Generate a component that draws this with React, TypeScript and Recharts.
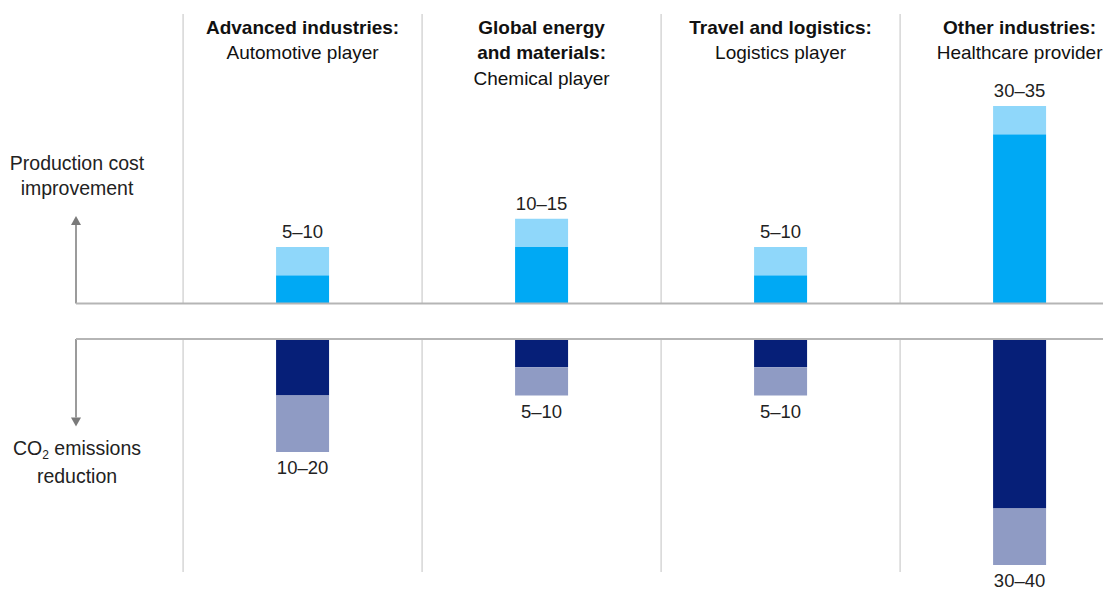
import React from 'react';
import { BarChart, Bar, XAxis, YAxis, ReferenceLine, LabelList } from 'recharts';

// sector columns
const headerBold = [['Advanced industries:'], ['Global energy', 'and materials:'], ['Travel and logistics:'], ['Other industries:']];
const headerSub = ['Automotive player', 'Chemical player', 'Logistics player', 'Healthcare provider'];

// production cost improvement (low end + width of range)
const costLow = [5, 10, 5, 30];
const costRange = [5, 5, 5, 5];
const costLabels = ['5–10', '10–15', '5–10', '30–35'];

// CO2 emissions reduction (low end + width of range)
const co2Low = [10, 5, 5, 30];
const co2Range = [10, 5, 5, 10];
const co2Labels = ['10–20', '5–10', '5–10', '30–40'];

const FONT = '"Liberation Sans", Arial, sans-serif';
const X_DOMAIN: [number, number] = [-0.448, 3.849];
const DIVIDERS = [0, 1, 2, 3];
const ARROW_LEN = 15.5;

const positions = headerSub.map((_, i) => i + 0.5);

const costData = positions.map((pos, i) => ({ pos, low: costLow[i], range: costRange[i], label: costLabels[i] }));
const co2Data = positions.map((pos, i) => ({ pos, low: co2Low[i], range: co2Range[i], label: co2Labels[i] }));

const HeaderTick = (props: any) => {
  const { x, y, payload } = props;
  const i = Math.round(payload.value - 0.5);
  const bold = headerBold[i] || [];
  return (
    <text x={x} y={y} textAnchor="middle" fontFamily={FONT} fontSize={19} fill="#111">
      {bold.map((t, k) => (
        <tspan key={k} x={x} dy={k === 0 ? 19.5 : 25.5} fontWeight={700}>{t}</tspan>
      ))}
      <tspan x={x} dy={25.5}>{headerSub[i]}</tspan>
    </text>
  );
};

const Arrow = (props: any) => {
  const { x1, y1, x2, y2 } = props;
  const dir = y2 < y1 ? -1 : 1;
  const base = y2 - dir * 9;
  return (
    <g>
      <line x1={x1} y1={y1} x2={x2} y2={base} stroke="#7a7a7a" strokeWidth={1.5} />
      <polygon points={`${x2 - 5},${base} ${x2 + 5},${base} ${x2},${y2}`} fill="#7a7a7a" />
    </g>
  );
};

const sideLabel: React.CSSProperties = {
  position: 'absolute',
  left: -3,
  width: 160,
  textAlign: 'center',
  fontFamily: FONT,
  fontSize: 19.5,
  lineHeight: '25px',
  color: '#222',
};

export default function App() {
  return (
    <div style={{ position: 'absolute', left: 0, top: 0, width: 1105, height: 593, background: '#fff', overflow: 'hidden' }}>
      <div style={{ position: 'absolute', left: 0, top: 0 }}>
        <BarChart width={1105} height={320} data={costData} margin={{ top: 13, right: 2, left: 76, bottom: 15.5 }} barSize={53}>
          <XAxis dataKey="pos" type="number" domain={X_DOMAIN} ticks={DIVIDERS} tick={false} tickLine={false}
            height={1} axisLine={{ stroke: '#b5b5b5', strokeWidth: 2 }} allowDataOverflow />
          <XAxis xAxisId="hdr" orientation="top" dataKey="pos" type="number" domain={X_DOMAIN} ticks={positions}
            interval={0} tick={HeaderTick} tickLine={false} axisLine={false} height={1} tickSize={0} tickMargin={0} allowDataOverflow />
          <YAxis hide domain={[0, 51.3]} allowDataOverflow />
          {DIVIDERS.map((d) => (
            <ReferenceLine key={d} x={d} stroke="#c2c2c2" strokeWidth={1} />
          ))}
          <ReferenceLine segment={[{ x: X_DOMAIN[0], y: 0 }, { x: X_DOMAIN[0], y: ARROW_LEN }]} ifOverflow="visible" shape={Arrow} />
          <Bar dataKey="low" stackId="a" fill="#00A9F4" isAnimationActive={false} />
          <Bar dataKey="range" stackId="a" fill="#8FD7FA" isAnimationActive={false}>
            <LabelList dataKey="label" position="top" offset={9} fill="#222" fontSize={18.5} fontFamily={FONT} />
          </Bar>
        </BarChart>
      </div>

      <div style={{ position: 'absolute', left: 0, top: 330 }}>
        <BarChart width={1105} height={263} data={co2Data} margin={{ top: 8, right: 2, left: 76, bottom: 21 }} barSize={53}>
          <XAxis dataKey="pos" type="number" orientation="top" domain={X_DOMAIN} ticks={DIVIDERS} tick={false} tickLine={false}
            height={1} axisLine={{ stroke: '#b5b5b5', strokeWidth: 2 }} allowDataOverflow />
          <YAxis hide reversed domain={[0, 41.24]} allowDataOverflow />
          {DIVIDERS.map((d) => (
            <ReferenceLine key={d} x={d} stroke="#c2c2c2" strokeWidth={1} />
          ))}
          <ReferenceLine segment={[{ x: X_DOMAIN[0], y: 0 }, { x: X_DOMAIN[0], y: ARROW_LEN }]} ifOverflow="visible" shape={Arrow} />
          <Bar dataKey="low" stackId="b" fill="#061F78" isAnimationActive={false} />
          <Bar dataKey="range" stackId="b" fill="#8F9BC4" isAnimationActive={false}>
            <LabelList dataKey="label" position="top" offset={9} fill="#222" fontSize={18.5} fontFamily={FONT} />
          </Bar>
        </BarChart>
      </div>

      <div style={{ ...sideLabel, top: 150.5 }}>
        Production cost<br />improvement
      </div>
      <div style={{ ...sideLabel, top: 435.5 }}>
        CO<span style={{ fontSize: 12, position: 'relative', top: 4 }}>2</span> emissions<br />reduction
      </div>
    </div>
  );
}
